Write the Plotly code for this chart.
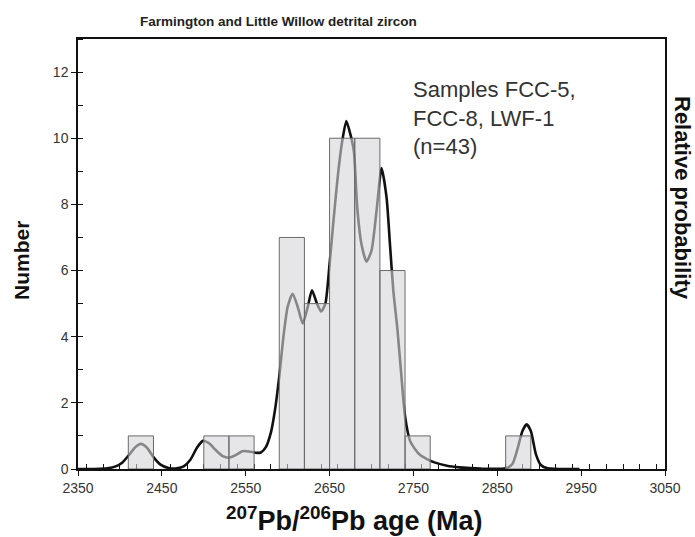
import plotly.graph_objects as go

# Histogram bins (Ma) and counts
bin_starts = [2410, 2500, 2530, 2590, 2620, 2650, 2680, 2710, 2740, 2860]
counts = [1, 1, 1, 7, 5, 10, 10, 6, 1, 1]
bin_width = 30

# Relative probability curve (scaled to Number axis)
ages = [2350, 2370, 2385, 2395, 2403, 2410, 2418, 2425, 2432, 2440, 2448, 2458,
        2468, 2476, 2484, 2492, 2499, 2506, 2514, 2522, 2530, 2538, 2546, 2554,
        2562, 2568, 2574, 2580, 2585, 2590, 2595, 2600, 2606, 2612, 2618, 2624,
        2629, 2635, 2640, 2645, 2650, 2655, 2660, 2665, 2670, 2675, 2679, 2683,
        2688, 2694, 2700, 2706, 2712, 2718, 2722, 2726, 2731, 2736, 2740, 2746,
        2752, 2758, 2766, 2775, 2790, 2805, 2830, 2860, 2868, 2874, 2880, 2885,
        2890, 2896, 2902, 2910, 2948]
prob = [0, 0, 0.02, 0.08, 0.2, 0.4, 0.65, 0.76, 0.65, 0.36, 0.14, 0.03,
        0.02, 0.08, 0.28, 0.65, 0.85, 0.78, 0.58, 0.4, 0.34, 0.42, 0.54, 0.53,
        0.49, 0.5, 0.66, 1.1, 1.8, 2.8, 4.0, 4.9, 5.3, 4.9, 4.4, 4.9,
        5.4, 5.0, 4.76, 5.0, 6.2, 7.6, 8.9, 9.9, 10.52, 10.1, 9.6, 7.9,
        6.8, 6.27, 6.6, 7.8, 9.1, 8.2, 6.8, 5.4, 4.2, 2.7, 1.6, 0.85,
        0.6, 0.42, 0.3, 0.2, 0.1, 0.05, 0.01, 0.02, 0.15, 0.6, 1.15, 1.35,
        1.15, 0.45, 0.12, 0.02, 0]

x_ticks = [2350, 2450, 2550, 2650, 2750, 2850, 2950, 3050]
y_ticks = [0, 2, 4, 6, 8, 10, 12]

# Build histogram rectangles (drawn as a filled scatter so they lie over the curve)
bx, by = [], []
for s, c in zip(bin_starts, counts):
    bx += [s, s, s + bin_width, s + bin_width, s, None]
    by += [0, c, c, 0, 0, None]

fig = go.Figure()
fig.add_trace(go.Scatter(
    x=ages, y=prob, mode="lines",
    line=dict(color="#111111", width=2.6, shape="spline", smoothing=0.6),
    showlegend=False, hoverinfo="skip"))
fig.add_trace(go.Scatter(
    x=bx, y=by, mode="lines", fill="toself",
    fillcolor="rgba(213,214,217,0.6)",
    line=dict(color="#6a6a6a", width=1),
    showlegend=False, hoverinfo="skip"))

font_fam = "Liberation Sans, Arial, sans-serif"

fig.update_layout(
    width=695, height=537,
    margin=dict(l=78, r=30, t=39, b=68),
    plot_bgcolor="white", paper_bgcolor="white",
    font=dict(family=font_fam, color="#222222"),
    xaxis=dict(range=[2350, 3050], tickvals=x_ticks,
               ticktext=[str(v) for v in x_ticks],
               showline=True, linecolor="#111111", linewidth=1.5, mirror=True,
               ticks="outside", ticklen=5, tickcolor="#111111",
               minor=dict(dtick=20, ticks="inside", ticklen=5, tickcolor="#111111", showgrid=False),
               showgrid=False, zeroline=False, layer="below traces",
               tickfont=dict(size=14, color="#333333")),
    yaxis=dict(range=[0, 13], tickvals=y_ticks,
               showline=True, linecolor="#111111", linewidth=1.5, mirror=True,
               ticks="outside", ticklen=5, tickcolor="#111111",
               minor=dict(dtick=1, ticks="inside", ticklen=5, tickcolor="#111111", showgrid=False),
               showgrid=False, zeroline=False, layer="below traces",
               tickfont=dict(size=14, color="#333333")),
    annotations=[
        dict(text="<b>Farmington and Little Willow detrital zircon</b>",
             xref="paper", yref="paper", x=(278 - 78) / 587, y=1 + (39 - 21) / 430,
             showarrow=False, font=dict(size=13.5, color="#222222"),
             xanchor="center", yanchor="middle"),
        dict(text="Samples FCC-5,<br>FCC-8, LWF-1<br>(n=43)",
             xref="paper", yref="paper", x=(411 - 78) / 587, y=1 - (75 - 39) / 430,
             showarrow=False, align="left", xanchor="left", yanchor="top",
             font=dict(size=22, color="#333333")),
        dict(text="<b>Number</b>", xref="paper", yref="paper",
             x=-(78 - 21) / 587, y=(469 - 260) / 430, textangle=-90,
             showarrow=False, xanchor="center", yanchor="middle",
             font=dict(size=21, color="#111111")),
        dict(text="<b>Relative probability</b>", xref="paper", yref="paper",
             x=1 + (682 - 665) / 587, y=(469 - 198) / 430, textangle=90,
             showarrow=False, xanchor="center", yanchor="middle",
             font=dict(size=22, color="#111111")),
        dict(text="<b><sup>207</sup>Pb/<sup>206</sup>Pb age (Ma)</b>",
             xref="paper", yref="paper", x=(354 - 78) / 587, y=-(519 - 469) / 430,
             showarrow=False, xanchor="center", yanchor="middle",
             font=dict(size=27, color="#111111")),
    ],
)

fig.write_html("out.html", config={"displayModeBar": False},
               post_script="document.body.style.margin='0';document.body.style.overflow='hidden';")
